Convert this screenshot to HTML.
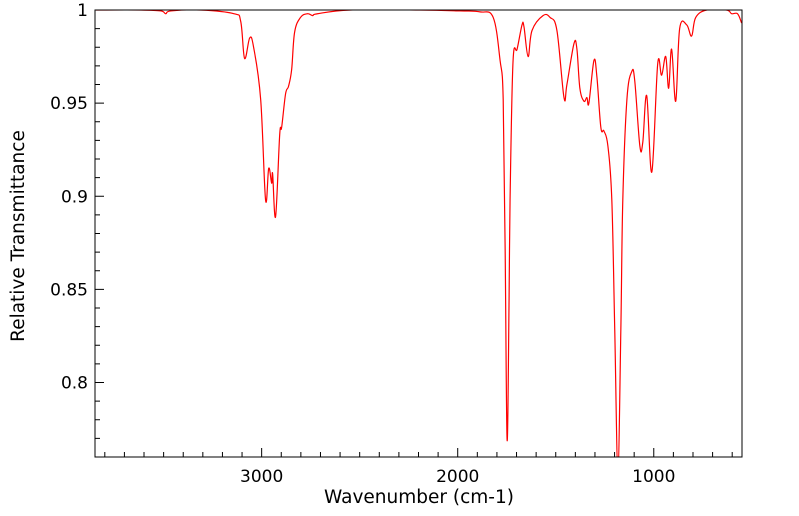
<!DOCTYPE html>
<html><head><meta charset="utf-8"><style>
html,body{margin:0;padding:0;background:#fff;}
svg{display:block;font-family:"DejaVu Sans","Liberation Sans",sans-serif;}
</style></head><body>
<svg id="chart" width="799" height="516" viewBox="0 0 799 516" xmlns="http://www.w3.org/2000/svg">
<g id="axes"></g>
<defs><clipPath id="clip"><rect x="95" y="10" width="647" height="447"/></clipPath></defs>
<path id="series" fill="none" stroke="#ff0000" stroke-width="1.2" clip-path="url(#clip)"/>
<rect x="95" y="10" width="647" height="447" fill="none" stroke="#000" stroke-width="1"/>
<text x="419" y="503" font-size="18.5" text-anchor="middle">Wavenumber (cm-1)</text>
<text x="24" y="236" font-size="18.5" text-anchor="middle" transform="rotate(-90 24 236)">Relative Transmittance</text>
</svg>
<script>
const wavenumbers = [3845,3616,3514,3489,3463,3310,3142,3107,3087,3061,3041,3005,2980,2964,2949,2944,2929,2908,2898,2878,2863,2847,2832,2802,2766,2740,2715,2547,2191,1987,1886,1819,1784,1768,1758,1748,1738,1733,1718,1697,1672,1662,1641,1621,1565,1529,1494,1458,1443,1407,1392,1377,1356,1341,1331,1305,1290,1270,1254,1234,1214,1199,1183,1168,1158,1137,1112,1097,1071,1056,1036,1010,980,960,939,924,909,888,868,832,807,786,730,629,603,573,552];
const transmittance = [1.000,1.000,0.9995,0.998,0.9995,1.000,0.998,0.994,0.974,0.985,0.980,0.952,0.898,0.915,0.907,0.912,0.889,0.933,0.937,0.955,0.959,0.968,0.988,0.996,0.998,0.997,0.998,1.000,1.000,0.9995,0.999,0.996,0.973,0.952,0.871,0.769,0.845,0.898,0.972,0.979,0.992,0.991,0.975,0.989,0.997,0.996,0.989,0.953,0.960,0.982,0.979,0.958,0.951,0.953,0.950,0.973,0.964,0.937,0.935,0.927,0.898,0.828,0.753,0.828,0.898,0.952,0.967,0.962,0.927,0.929,0.954,0.913,0.971,0.965,0.975,0.958,0.979,0.951,0.990,0.992,0.986,0.996,1.000,1.000,0.998,0.998,0.993];
const xMajorTicks = [3000,2000,1000];
const yMajorTicks = [0.8,0.85,0.9,0.95,1];
const yTickLabels = ["0.8","0.85","0.9","0.95","1"];
const X0=3850,X1=550,Y0=0.76,Y1=1;
const L=95,R=742,T=10,B=457;
function sx(w){return L+(X0-w)/(X0-X1)*(R-L);}
function sy(v){return B-(v-Y0)/(Y1-Y0)*(B-T);}
const NS="http://www.w3.org/2000/svg";
const g=document.getElementById('axes');
function line(x1,y1,x2,y2,name){const l=document.createElementNS(NS,'line');
l.setAttribute('x1',x1);l.setAttribute('y1',y1);l.setAttribute('x2',x2);l.setAttribute('y2',y2);
l.setAttribute('stroke','#000');l.setAttribute('stroke-width','1');


g.appendChild(l);}
function text(x,y,s,anchor,name){const t=document.createElementNS(NS,'text');
t.setAttribute('x',x);t.setAttribute('y',y);t.setAttribute('font-size','17');t.setAttribute('text-anchor',anchor);t.textContent=s;


g.appendChild(t);}
for(let w=3800;w>=600;w-=100){const x=sx(w);const major=w%1000===0;line(x,B,x,B-(major?9:5),major?'x-major-tick':'x-minor-tick');}
xMajorTicks.forEach(w=>text(sx(w),482,String(w),'middle','x-tick-label'));
for(let i=77;i<=100;i++){const v=i/100;const y=sy(v);const major=i%5===0;line(L,y,L+(major?9:5),y,major?'y-major-tick':'y-minor-tick');}
yMajorTicks.forEach((v,i)=>text(88,sy(v)+6,yTickLabels[i],'end','y-tick-label'));
const pts=wavenumbers.map((w,i)=>[sx(w),sy(transmittance[i])]);
let d='M'+pts[0][0].toFixed(2)+','+pts[0][1].toFixed(2);
for(let i=0;i<pts.length-1;i++){const p0=pts[Math.max(0,i-1)],p1=pts[i],p2=pts[i+1],p3=pts[Math.min(pts.length-1,i+2)];
const t=0.18;
const c1=[p1[0]+(p2[0]-p0[0])*t,p1[1]+(p2[1]-p0[1])*t];
const c2=[p2[0]-(p3[0]-p1[0])*t,p2[1]-(p3[1]-p1[1])*t];
d+='C'+c1[0].toFixed(2)+','+c1[1].toFixed(2)+' '+c2[0].toFixed(2)+','+c2[1].toFixed(2)+' '+p2[0].toFixed(2)+','+p2[1].toFixed(2);}
document.getElementById('series').setAttribute('d',d);
</script>
</body></html>
